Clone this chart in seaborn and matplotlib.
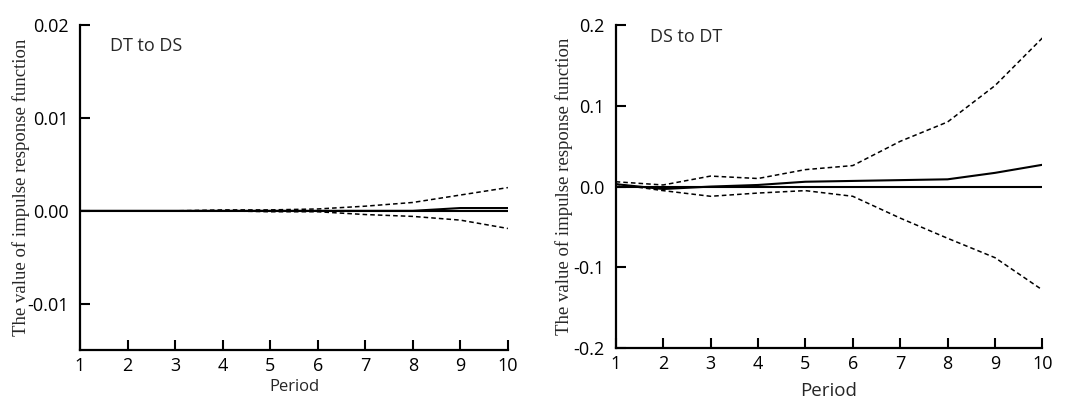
import numpy as np
import pandas as pd
import seaborn as sns
import matplotlib.pyplot as plt

# ---------------- Data ----------------
PERIODS = [1, 2, 3, 4, 5, 6, 7, 8, 9, 10]

# DT to DS
LEFT_RESP = [0.0, 0.0, 0.0, 0.0, 0.0, 0.0, 0.0, 0.0, 0.0003, 0.0003]
LEFT_UPPER = [0.0, 0.0, 0.0, 0.0001, 0.0001, 0.0002, 0.0005, 0.0009, 0.0017, 0.0025]
LEFT_LOWER = [0.0, 0.0, 0.0, 0.0, -0.0001, -0.0001, -0.0004, -0.0006, -0.0010, -0.0019]

# DS to DT
RIGHT_RESP = [0.003, -0.003, 0.0, 0.002, 0.006, 0.007, 0.008, 0.009, 0.017, 0.027]
RIGHT_UPPER = [0.006, 0.002, 0.013, 0.010, 0.021, 0.026, 0.056, 0.080, 0.125, 0.184]
RIGHT_LOWER = [0.003, -0.005, -0.012, -0.008, -0.005, -0.012, -0.039, -0.064, -0.088, -0.128]

PANELS = [
    ("DT to DS", LEFT_RESP, LEFT_UPPER, LEFT_LOWER,
     [-0.01, 0.0, 0.01, 0.02], ["-0.01", "0.00", "0.01", "0.02"], (-0.015, 0.02)),
    ("DS to DT", RIGHT_RESP, RIGHT_UPPER, RIGHT_LOWER,
     [-0.2, -0.1, 0.0, 0.1, 0.2], ["-0.2", "-0.1", "0.0", "0.1", "0.2"], (-0.2, 0.2)),
]

sns.set_style("ticks")
plt.rcParams['font.family'] = ['Open Sans', 'DejaVu Sans']

fig = plt.figure(figsize=(10.67, 4.03), dpi=100)
axes = [fig.add_axes([0.075, 0.131, 0.401, 0.807]),
        fig.add_axes([0.577, 0.136, 0.400, 0.802])]

# per-panel text placement (axes coords)
title_pos = [(0.07, 0.935), (0.08, 0.963)]
ylabel_x = [-0.117, -0.10]
xlabel_y = [-0.09, -0.105]
xlabel_size = [12, 13.5]

for i, (ax, (title, resp, upper, lower, yticks, ylabels, ylim)) in enumerate(zip(axes, PANELS)):
    df = pd.DataFrame({"Period": PERIODS, "resp": resp, "upper": upper, "lower": lower})
    sns.lineplot(data=df, x="Period", y="resp", ax=ax, color="black", lw=1.5)
    sns.lineplot(data=df, x="Period", y="upper", ax=ax, color="black", lw=1.1,
                 linestyle=(0, (3, 2)))
    sns.lineplot(data=df, x="Period", y="lower", ax=ax, color="black", lw=1.1,
                 linestyle=(0, (3, 2)))
    ax.axhline(0, color="black", lw=1.5)

    ax.set_xlim(1, 10)
    ax.set_ylim(*ylim)
    ax.set_xticks(PERIODS)
    ax.set_xticklabels([str(p) for p in PERIODS])
    ax.set_yticks(yticks)
    ax.set_yticklabels(ylabels)
    ax.tick_params(direction="in", length=7, width=1.5, labelsize=13, colors="black", pad=5)
    ax.tick_params(axis="y", pad=8)
    for s in ["left", "bottom"]:
        ax.spines[s].set_linewidth(1.6)
        ax.spines[s].set_color("black")
    sns.despine(ax=ax)

    ax.set_xlabel("Period", fontsize=xlabel_size[i])
    ax.xaxis.set_label_coords(0.5, xlabel_y[i])
    ax.set_ylabel("The value of impulse response function", fontsize=13.5,
                  family=["Liberation Serif"])
    ax.yaxis.set_label_coords(ylabel_x[i], 0.5)
    ax.text(title_pos[i][0], title_pos[i][1], title, transform=ax.transAxes,
            fontsize=13, va="center", ha="left")

fig.savefig("out.png", dpi=100)
